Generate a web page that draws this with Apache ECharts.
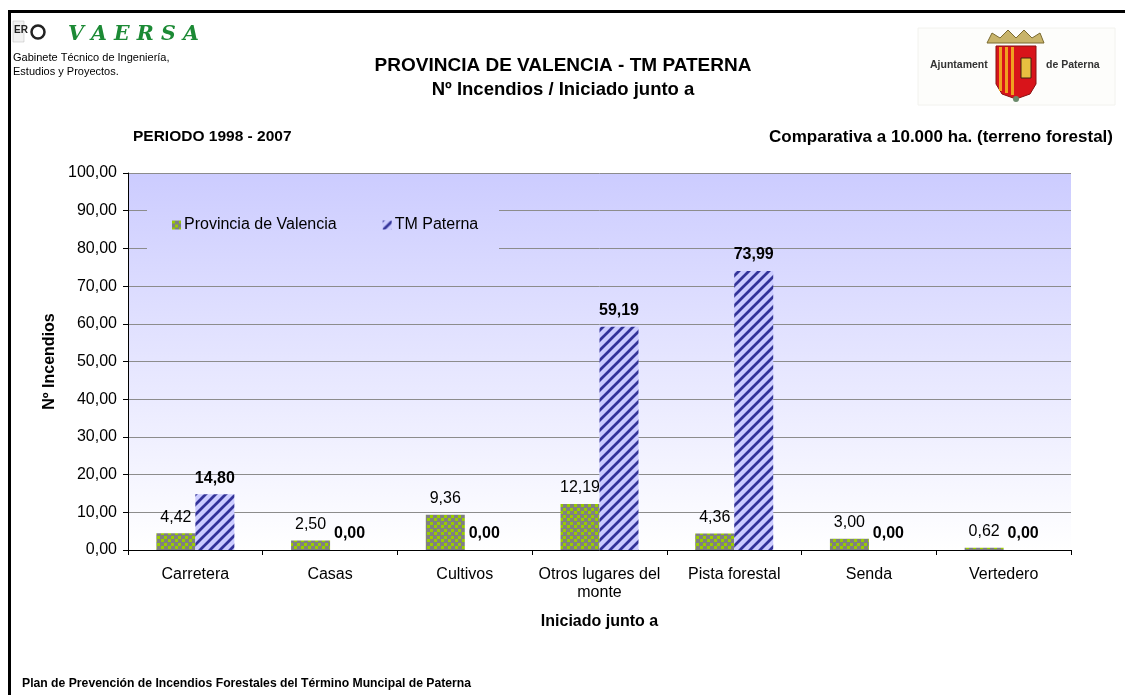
<!DOCTYPE html>
<html><head><meta charset="utf-8">
<script src="https://cdn.jsdelivr.net/npm/echarts@6/dist/echarts.min.js"></script>
<style>html,body{margin:0;padding:0;background:#fff}#c{width:1125px;height:695px}</style>
</head><body><div id="c"></div>
<script>
const categories = ['Carretera', 'Casas', 'Cultivos', 'Otros lugares del\nmonte', 'Pista forestal', 'Senda', 'Vertedero'];
const provincia = [4.42, 2.50, 9.36, 12.19, 4.36, 3.00, 0.62];
const paterna = [14.80, 0.00, 0.00, 59.19, 73.99, 0.00, 0.00];
const seriesNames = ['Provincia de Valencia', 'TM Paterna'];

const FONT = '"Liberation Sans", Arial, sans-serif';
function fmt(v){ return v.toFixed(2).replace('.', ','); }

function dotPattern(){
  const c = document.createElement('canvas'); c.width = 7; c.height = 7;
  const g = c.getContext('2d');
  g.fillStyle = '#808080'; g.fillRect(0,0,7,7);
  g.fillStyle = '#99cc00';
  g.fillRect(0,0,3,3); g.fillRect(3,4,3,3);
  return c;
}
function stripePattern(){
  const c = document.createElement('canvas'); c.width = 10; c.height = 10;
  const g = c.getContext('2d');
  g.fillStyle = '#ccccff'; g.fillRect(0,0,10,10);
  g.strokeStyle = '#333399'; g.lineWidth = 2.7;
  for (const k of [0,10,20]) { g.beginPath(); g.moveTo(-2, k+2); g.lineTo(k+2, -2); g.stroke(); }
  return c;
}

const plotGrad = {type:'linear', x:0, y:173, x2:0, y2:550, global:true,
  colorStops:[{offset:0,color:'#ccccff'},{offset:1,color:'#ffffff'}]};

const chart = echarts.init(document.getElementById('c'), null, {renderer:'canvas'});
chart.setOption({
  animation:false,
  backgroundColor:'#ffffff',
  textStyle:{fontFamily:FONT},
  grid:{left:128, top:173, right:54, bottom:145, show:true, backgroundColor:plotGrad, borderWidth:0},
  legend:{
    left:172, top:217, padding:0, itemWidth:9, itemHeight:9, itemGap:46, icon:'rect',
    textStyle:{fontFamily:FONT, fontSize:16, color:'#000', padding:[0,0,0,-2]},
    data:seriesNames, z:5
  },
  xAxis:{
    type:'category', data:categories,
    axisLine:{lineStyle:{color:'#000', width:1}},
    axisTick:{show:true, length:5, lineStyle:{color:'#000'}},
    axisLabel:{fontFamily:FONT, fontSize:16, color:'#000', margin:16, lineHeight:18, interval:0},
    name:'Iniciado junto a', nameLocation:'middle', nameGap:64,
    nameTextStyle:{fontFamily:FONT, fontSize:16, fontWeight:'bold', color:'#000'}
  },
  yAxis:{
    type:'value', min:0, max:100, interval:10,
    axisLine:{show:true, lineStyle:{color:'#000'}},
    axisTick:{show:true, length:5, lineStyle:{color:'#000'}},
    splitLine:{show:true, lineStyle:{color:'#8c8c8c', width:1}},
    axisLabel:{fontFamily:FONT, fontSize:16, color:'#000', margin:11, formatter:v=>fmt(v)},
    name:'Nº Incendios', nameLocation:'middle', nameGap:70,
    nameTextStyle:{fontFamily:FONT, fontSize:16, fontWeight:'bold', color:'#000'}
  },
  series:[
    {name:seriesNames[0], type:'bar', data:provincia, barWidth:39, barGap:'0%',
     itemStyle:{color:{image:dotPattern(), repeat:'repeat'}},
     label:{show:true, position:'top', distance:8, fontFamily:FONT, fontSize:16, color:'#000', formatter:p=>fmt(p.value)}},
    {name:seriesNames[1], type:'bar', data:paterna, barWidth:39,
     itemStyle:{color:{image:stripePattern(), repeat:'repeat'}},
     label:{show:true, position:'top', distance:8, fontFamily:FONT, fontSize:16, fontWeight:'bold', color:'#000', formatter:p=>fmt(p.value)}}
  ],
  graphic:[
    {type:'rect', z:1, shape:{x:147, y:195, width:352, height:62}, style:{fill:plotGrad}},
    {type:'rect', z:10, shape:{x:8, y:10, width:3, height:700}, style:{fill:'#000'}},
    {type:'rect', z:10, shape:{x:8, y:10, width:1130, height:3}, style:{fill:'#000'}},
    {type:'text', style:{x:563, y:66, text:'PROVINCIA DE VALENCIA - TM PATERNA', font:'bold 19px '+FONT, fill:'#000', textAlign:'center', textVerticalAlign:'middle'}},
    {type:'text', style:{x:563, y:90, text:'Nº Incendios / Iniciado junto a', font:'bold 18.5px '+FONT, fill:'#000', textAlign:'center', textVerticalAlign:'middle'}},
    {type:'text', style:{x:133, y:137, text:'PERIODO 1998 - 2007', font:'bold 15.5px '+FONT, fill:'#000', textVerticalAlign:'middle'}},
    {type:'text', style:{x:1113, y:137, text:'Comparativa a 10.000 ha. (terreno forestal)', font:'bold 17px '+FONT, fill:'#000', textAlign:'right', textVerticalAlign:'middle'}},
    {type:'text', style:{x:22, y:684, text:'Plan de Prevención de Incendios Forestales del Término Muncipal de Paterna', font:'bold 12.2px '+FONT, fill:'#000', textVerticalAlign:'middle'}},
    {type:'rect', shape:{x:13, y:21, width:11, height:21}, style:{fill:'#f2f2f2', stroke:'#bbb', lineWidth:0.5}},
    {type:'text', style:{x:14, y:25, text:'ER', font:'bold 10px '+FONT, fill:'#222'}},
    {type:'circle', shape:{cx:38, cy:32, r:6.5}, style:{fill:'#fff', stroke:'#222', lineWidth:2.5}},
    {type:'text', style:{x:68, y:35, text:'V A E R S A', font:'italic bold 20.5px "DejaVu Serif", serif', fill:'#1c8a35', textVerticalAlign:'middle'}},
    {type:'text', style:{x:13, y:52, text:'Gabinete Técnico de Ingeniería,', font:'11px '+FONT, fill:'#000'}},
    {type:'text', style:{x:13, y:66, text:'Estudios y Proyectos.', font:'11px '+FONT, fill:'#000'}},
    {type:'rect', shape:{x:918, y:28, width:197, height:77}, style:{fill:'#fdfdfb', stroke:'#f2f2ee', lineWidth:1}},
    {type:'text', style:{x:930, y:65, text:'Ajuntament', font:'bold 10.5px '+FONT, fill:'#333', textVerticalAlign:'middle'}},
    {type:'text', style:{x:1046, y:65, text:'de Paterna', font:'bold 10.5px '+FONT, fill:'#333', textVerticalAlign:'middle'}},
    {type:'polygon', shape:{points:[[987,43],[992,33],[1000,38],[1008,30],[1016,38],[1024,30],[1032,38],[1040,33],[1044,43]]}, style:{fill:'#c8b46a', stroke:'#7a6a30', lineWidth:1}},
    {type:'polygon', shape:{points:[[996,46],[1036,46],[1036,84],[1030,94],[1016,99],[1002,94],[996,84]]}, style:{fill:'#d8141a', stroke:'#8a1010', lineWidth:1}},
    {type:'rect', shape:{x:999, y:47, width:3, height:44}, style:{fill:'#f0a020'}},
    {type:'rect', shape:{x:1005, y:47, width:3, height:46}, style:{fill:'#f0a020'}},
    {type:'rect', shape:{x:1011, y:47, width:3, height:48}, style:{fill:'#f0a020'}},
    {type:'rect', shape:{x:1021, y:58, width:10, height:20}, style:{fill:'#e8c040', stroke:'#402010', lineWidth:1}},
    {type:'circle', shape:{cx:1016, cy:99, r:3}, style:{fill:'#6a8a6a'}}
  ]
});
</script></body></html>
